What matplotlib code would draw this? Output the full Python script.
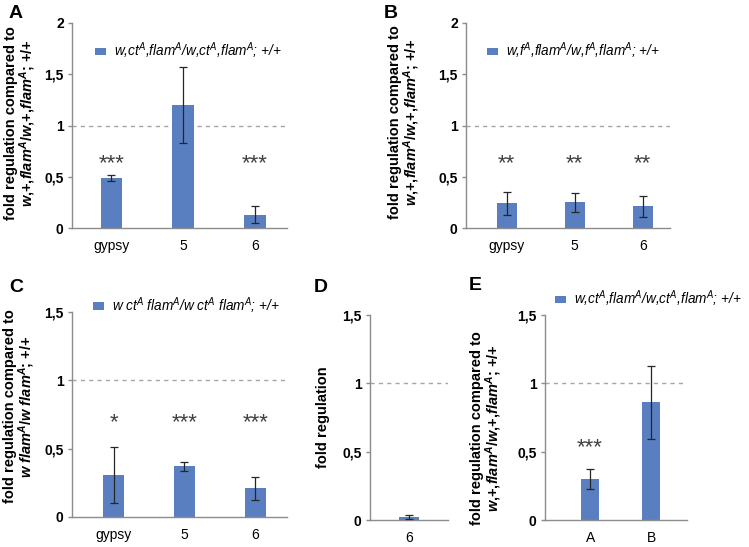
import matplotlib
matplotlib.use('Agg')
import matplotlib.pyplot as plt

plt.rcParams['font.family'] = ['Liberation Sans', 'DejaVu Sans']
plt.rcParams['mathtext.fontset'] = 'custom'
plt.rcParams['mathtext.rm'] = 'Liberation Sans'
plt.rcParams['mathtext.it'] = 'Liberation Sans:italic'
plt.rcParams['mathtext.bf'] = 'Liberation Sans:bold'
plt.rcParams['mathtext.bfit'] = 'Liberation Sans:bold:italic'

# ---- data ----
a_cats = ['gypsy', '5', '6']
a_vals = [0.49, 1.20, 0.13]
a_errs = [0.03, 0.37, 0.085]
a_stars = ['***', '', '***']

b_cats = ['gypsy', '5', '6']
b_vals = [0.24, 0.25, 0.21]
b_errs = [0.11, 0.095, 0.10]
b_stars = ['**', '**', '**']

c_cats = ['gypsy', '5', '6']
c_vals = [0.31, 0.37, 0.21]
c_errs = [0.205, 0.03, 0.085]
c_stars = ['*', '***', '***']

d_cats = ['6']
d_vals = [0.02]
d_errs = [0.015]
d_stars = ['']

e_cats = ['A', 'B']
e_vals = [0.30, 0.86]
e_errs = [0.075, 0.27]
e_stars = ['***', '']

BAR = '#5A7FC0'
GRID = '#8C8C8C'
FW, FH = 749, 547

ylab_wt = ('fold regulation compared to\n'
           r'$\mathbfit{w}$,+,$\mathbfit{flam}^{\mathbfit{A}}$/$\mathbfit{w}$,+,'
           r'$\mathbfit{flam}^{\mathbfit{A}}$; +/+')
ylab_c = ('fold regulation compared to\n'
          r'$\mathbfit{w\ flam}^{\mathbfit{A}}$/$\mathbfit{w\ flam}^{\mathbfit{A}}$; +/+')
leg_ct = r'w,ct$^{A}$,flam$^{A}$/w,ct$^{A}$,flam$^{A}$; +/+'
leg_f = r'w,f$^{A}$,flam$^{A}$/w,f$^{A}$,flam$^{A}$; +/+'
leg_c = r'w ct$^{A}$ flam$^{A}$/w ct$^{A}$ flam$^{A}$; +/+'

fig = plt.figure(figsize=(FW / 100, FH / 100), dpi=100)


def px_axes(left, top, right, bottom):
    return fig.add_axes([left / FW, 1 - bottom / FH, (right - left) / FW, (bottom - top) / FH])


def panel(ax, cats, vals, errs, stars, ymax, xlim, star_y, ylabel, lab_xy, legend, leg_xy):
    x = list(range(len(cats)))
    ax.bar(x, vals, width=0.3, color=BAR, label=legend, zorder=2)
    ax.errorbar(x, vals, yerr=errs, fmt='none', ecolor='#262626', elinewidth=0.9,
                capsize=3, capthick=0.9, zorder=3)
    ax.axhline(1, color='#A6A6A6', lw=1, dashes=(3, 3), zorder=1)
    for xi, s in zip(x, stars):
        if s:
            ax.text(xi, star_y, s, ha='center', va='baseline', fontsize=16, color='#404040')
    ax.set_xlim(*xlim)
    ax.set_ylim(0, ymax)
    ticks = [t * 0.5 for t in range(int(ymax / 0.5) + 1)]
    ax.set_yticks(ticks)
    ax.set_yticklabels([('%g' % t).replace('.', ',') for t in ticks],
                       fontsize=10, fontweight='bold')
    ax.set_xticks(x)
    ax.set_xticklabels(cats, fontsize=10)
    ax.tick_params(axis='x', length=0, pad=8)
    ax.tick_params(axis='y', length=3, width=1, color=GRID, pad=3)
    for side in ['top', 'right']:
        ax.spines[side].set_visible(False)
    for side in ['left', 'bottom']:
        ax.spines[side].set_color(GRID)
        ax.spines[side].set_linewidth(1)
    ax.set_ylabel(ylabel, fontsize=10.5, fontweight='bold', linespacing=0.95)
    ax.yaxis.set_label_coords(*lab_xy)
    if legend:
        ax.legend(loc='center left', bbox_to_anchor=leg_xy, frameon=False,
                  prop={'size': 9.8, 'style': 'italic'}, handlelength=0.8,
                  handleheight=0.5, handletextpad=0.6, borderpad=0, borderaxespad=0)


axA = px_axes(72, 23, 287, 228)
panel(axA, a_cats, a_vals, a_errs, a_stars, 2, (-0.55, 2.45), 0.57, ylab_wt,
      (-0.159, 0.51), leg_ct, (0.107, 0.863))

axB = px_axes(466, 23, 670, 228)
panel(axB, b_cats, b_vals, b_errs, b_stars, 2, (-0.6, 2.4), 0.57, ylab_wt,
      (-0.215, 0.515), leg_f, (0.103, 0.863))

axC = px_axes(72, 312, 287, 517)
panel(axC, c_cats, c_vals, c_errs, c_stars, 1.5, (-0.59, 2.45), 0.65, ylab_c,
      (-0.164, 0.54), leg_c, (0.098, 1.03))

axD = px_axes(370, 315, 448, 520)
panel(axD, d_cats, d_vals, d_errs, d_stars, 1.5, (-0.56, 0.56), 0.6, 'fold regulation',
      (-0.51, 0.5), None, None)

axE = px_axes(545, 315, 687, 520)
panel(axE, e_cats, e_vals, e_errs, e_stars, 1.5, (-0.74, 1.59), 0.49, ylab_wt,
      (-0.29, 0.45), leg_ct, (0.07, 1.078))

for letter, lx, ly in [('A', 9, 18), ('B', 384, 18), ('C', 9, 292), ('D', 314, 292), ('E', 469, 290)]:
    fig.text(lx / FW, 1 - ly / FH, letter, fontsize=14, fontweight='bold', ha='left', va='baseline')

fig.savefig('out.png', dpi=100)
